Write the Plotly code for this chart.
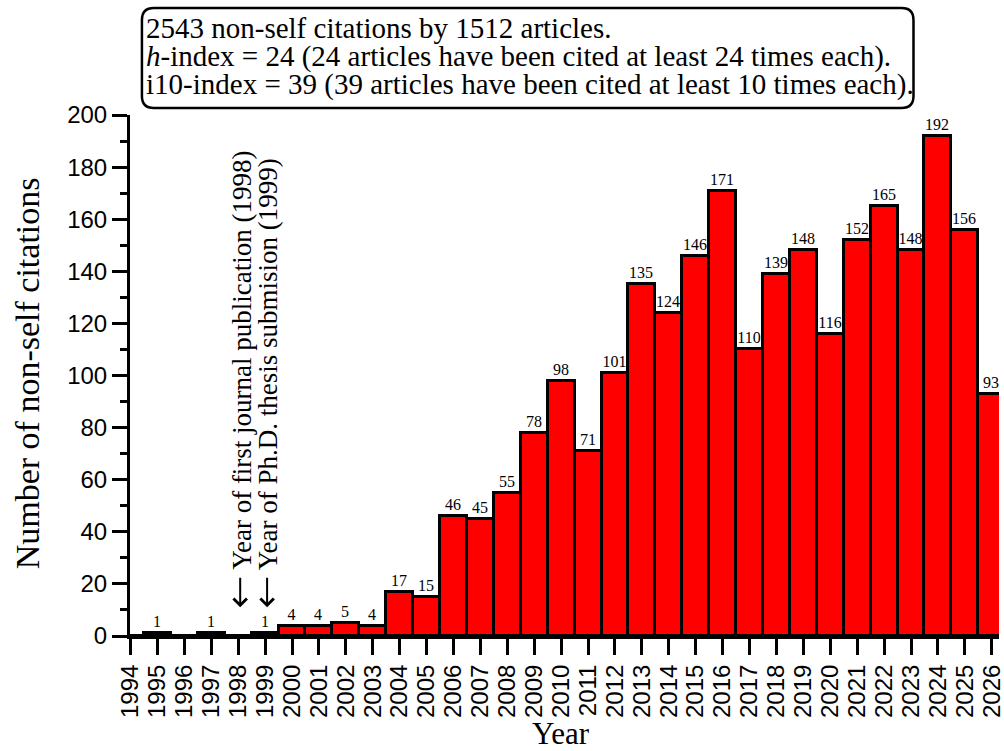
import plotly.graph_objects as go

# ---- data ----
years = list(range(1994, 2027))
citations = [0, 1, 0, 1, 0, 1, 4, 4, 5, 4, 17, 15, 46, 45, 55, 78, 98, 71, 101,
             135, 124, 146, 171, 110, 139, 148, 116, 152, 165, 148, 192, 156, 93]
year_labels = [str(y) for y in years]
bar_text = [str(v) if v > 0 else "" for v in citations]

summary_lines = [
    "2543 non-self citations by 1512 articles.",
    "<i>h</i>-index = 24 (24 articles have been cited at least 24 times each).",
    "i10-index = 39 (39 articles have been cited at least 10 times each).",
]
milestones = [(1998, "Year of first journal publication (1998)"),
              (1999, "Year of Ph.D. thesis submision (1999)")]

# ---- layout geometry (window pixels; body margin removed below) ----
W, H = 1004, 751
PLOT_L, PLOT_R, PLOT_T, PLOT_B = 130, 1004, 115, 636.5
ML = PLOT_L
MR = W - PLOT_R
MT = PLOT_T
MB = H - PLOT_B
PW = W - ML - MR
PH = H - MT - MB

def px_x(px):
    return (px - PLOT_L) / PW

def px_y(py):
    return (PLOT_B - py) / PH

SERIF = "Liberation Serif"
SANS = "Liberation Sans"

fig = go.Figure()
fig.add_trace(go.Bar(
    x=years, y=citations, width=1.0,
    marker=dict(color="#FF0000", line=dict(color="black", width=3)),
    text=bar_text, textposition="outside", constraintext="none",
    textfont=dict(family=SERIF, size=16, color="black"),
    hoverinfo="x+y",
))

annotations = []
shapes = []

# rounded summary box
x0, x1 = px_x(142), px_x(918)
yt, yb = px_y(8), px_y(108)
rx, ry = 12 / PW, 12 / PH
path = (f"M {x0+rx},{yt} L {x1-rx},{yt} Q {x1},{yt} {x1},{yt-ry} "
        f"L {x1},{yb+ry} Q {x1},{yb} {x1-rx},{yb} "
        f"L {x0+rx},{yb} Q {x0},{yb} {x0},{yb+ry} "
        f"L {x0},{yt-ry} Q {x0},{yt} {x0+rx},{yt} Z")
shapes.append(dict(type="path", xref="paper", yref="paper", path=path,
                   line=dict(color="black", width=2.5), fillcolor="rgba(0,0,0,0)"))

line_centers = [28, 56, 84]
for txt, cy in zip(summary_lines, line_centers):
    annotations.append(dict(xref="paper", yref="paper", x=px_x(144), y=px_y(cy),
                            xanchor="left", yanchor="middle", text=txt, showarrow=False,
                            font=dict(family=SERIF, size=29, color="black")))

# milestone arrows and rotated texts
for yr, txt in milestones:
    annotations.append(dict(x=yr, y=11, xref="x", yref="y", text="", showarrow=True,
                            ax=0, ay=-31, arrowhead=4, arrowsize=1.3, arrowwidth=2,
                            arrowcolor="black", xshift=2))
    annotations.append(dict(x=yr, y=24.5, xref="x", yref="y", text=txt, showarrow=False,
                            textangle=-90, xanchor="center", yanchor="bottom", xshift=3,
                            font=dict(family=SERIF, size=27, color="black")))

# axis titles
annotations.append(dict(xref="paper", yref="paper", x=px_x(27), y=px_y(374),
                        text="Number of non-self citations", textangle=-90, showarrow=False,
                        xanchor="center", yanchor="middle",
                        font=dict(family=SERIF, size=34, color="black")))
annotations.append(dict(xref="paper", yref="paper", x=px_x(563), y=px_y(734),
                        text="Year", showarrow=False, xanchor="center", yanchor="middle",
                        font=dict(family=SERIF, size=31, color="black")))

fig.update_layout(
    width=W, height=H,
    margin=dict(l=ML, r=MR, t=MT, b=MB, pad=0),
    paper_bgcolor="white", plot_bgcolor="white",
    showlegend=False, bargap=0,
    shapes=shapes, annotations=annotations,
    xaxis=dict(range=[1993.98, 2026.27], tickmode="array", tickvals=years,
               ticktext=year_labels, tickangle=-90, ticklabeloverflow="allow",
               tickfont=dict(family=SANS, size=24, color="black"),
               ticks="outside", ticklen=16, tickwidth=3, tickcolor="black",
               showline=True, linecolor="black", linewidth=3,
               showgrid=False, zeroline=False),
    yaxis=dict(range=[0, 200], dtick=20, tick0=0,
               tickfont=dict(family=SANS, size=24, color="black"),
               ticks="outside", ticklen=15, tickwidth=3, tickcolor="black",
               minor=dict(dtick=10, ticks="outside", ticklen=7, tickwidth=3,
                          tickcolor="black", showgrid=False),
               showline=True, linecolor="black", linewidth=3,
               showgrid=False, zeroline=False),
)

fig.write_html("out.html", config={"displayModeBar": False},
               post_script="document.body.style.margin='0';document.body.style.overflow='hidden';")
